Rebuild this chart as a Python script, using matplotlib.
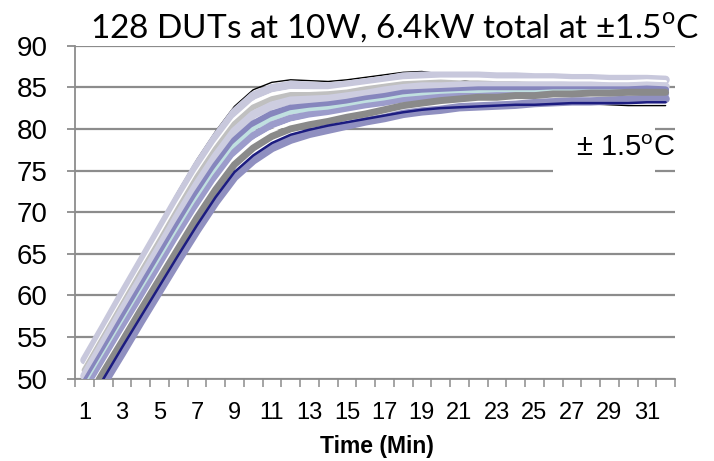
import matplotlib
matplotlib.use("Agg")
import matplotlib.pyplot as plt
from matplotlib.patches import Rectangle

plt.rcParams['mathtext.fontset'] = 'custom'
plt.rcParams['mathtext.rm'] = 'Lato'

### time axis, one point per minute
minutes = list(range(1, 33))

### temperature traces (degC), hottest first
black_trace = [52.0, 56.0, 60.0, 64.0, 68.4, 72.5, 76.3, 79.7, 82.7, 84.7, 85.6, 85.9, 85.8, 85.7, 85.9, 86.2,
               86.5, 86.8, 86.9, 86.6, 86.0, 85.4, 84.8, 84.3, 83.9, 83.5, 83.2, 83.0, 82.9, 82.8, 82.8, 82.8]
lav_top = [52.2, 56.1, 60.1, 64.0, 67.9, 71.8, 75.6, 79.0, 82.0, 84.0, 84.9, 85.3, 85.2, 85.1, 85.3, 85.6,
           85.9, 86.3, 86.4, 86.4, 86.4, 86.4, 86.3, 86.3, 86.2, 86.2, 86.1, 86.1, 86.0, 86.0, 86.0, 85.9]
white_top = [51.5, 55.5, 59.4, 63.3, 67.2, 71.1, 74.8, 78.2, 81.2, 83.2, 84.2, 84.6, 84.6, 84.6, 84.9, 85.2,
             85.5, 85.8, 85.9, 86.0, 86.0, 86.0, 85.9, 85.9, 85.9, 85.9, 85.8, 85.8, 85.7, 85.7, 85.8, 85.7]
silver = [51.0, 54.9, 58.8, 62.7, 66.5, 70.4, 74.2, 77.6, 80.6, 82.6, 83.6, 84.1, 84.1, 84.2, 84.4, 84.8,
          85.1, 85.4, 85.5, 85.6, 85.5, 85.5, 85.4, 85.4, 85.3, 85.3, 85.2, 85.2, 85.2, 85.2, 85.2, 85.2]
lav_light = [50.3, 54.2, 58.1, 61.9, 65.7, 69.6, 73.3, 76.7, 79.7, 81.7, 82.8, 83.4, 83.5, 83.6, 83.9, 84.2,
             84.6, 84.9, 85.1, 85.1, 85.2, 85.2, 85.2, 85.2, 85.2, 85.2, 85.2, 85.2, 85.1, 85.1, 85.2, 85.1]
lav_mid = [49.4, 53.2, 57.1, 60.9, 64.7, 68.5, 72.2, 75.6, 78.6, 80.6, 81.8, 82.5, 82.7, 82.9, 83.2, 83.6,
           83.9, 84.3, 84.4, 84.5, 84.6, 84.7, 84.7, 84.7, 84.7, 84.7, 84.7, 84.7, 84.7, 84.7, 84.8, 84.7]
cyan = [48.9, 52.7, 56.5, 60.3, 64.1, 67.9, 71.6, 75.0, 78.0, 80.0, 81.2, 82.0, 82.3, 82.5, 82.8, 83.2,
        83.5, 83.9, 84.1, 84.2, 84.3, 84.4, 84.4, 84.4, 84.4, 84.5, 84.5, 84.5, 84.5, 84.5, 84.5, 84.5]
lav_low = [48.2, 52.0, 55.8, 59.6, 63.3, 67.1, 70.8, 74.2, 77.2, 79.2, 80.5, 81.3, 81.7, 81.9, 82.3, 82.7,
           83.0, 83.4, 83.6, 83.8, 83.9, 83.9, 84.0, 84.0, 84.0, 84.1, 84.1, 84.1, 84.2, 84.2, 84.2, 84.2]
white_low = [47.6, 51.4, 55.2, 58.9, 62.7, 66.5, 70.1, 73.5, 76.5, 78.5, 79.8, 80.7, 81.2, 81.5, 81.9, 82.3,
             82.6, 83.0, 83.2, 83.4, 83.5, 83.6, 83.6, 83.7, 83.7, 83.8, 83.9, 83.9, 83.9, 83.9, 84.0, 83.9]
lav_bottom = [45.6, 49.3, 53.0, 56.8, 60.5, 64.2, 67.8, 71.2, 74.2, 76.2, 77.7, 78.7, 79.4, 79.9, 80.4, 80.9,
              81.3, 81.8, 82.1, 82.3, 82.6, 82.7, 82.8, 82.9, 83.1, 83.2, 83.3, 83.3, 83.4, 83.5, 83.6, 83.6]
gray = [46.9, 50.7, 54.4, 58.2, 61.9, 65.6, 69.3, 72.7, 75.7, 77.7, 79.1, 80.0, 80.5, 80.9, 81.4, 81.8,
        82.3, 82.8, 83.1, 83.4, 83.6, 83.8, 83.8, 84.0, 84.0, 84.2, 84.2, 84.3, 84.3, 84.4, 84.4, 84.4]
navy = [46.2, 49.9, 53.7, 57.4, 61.1, 64.8, 68.4, 71.8, 74.8, 76.8, 78.3, 79.3, 79.9, 80.4, 80.8, 81.2,
        81.6, 82.0, 82.3, 82.5, 82.6, 82.7, 82.8, 82.9, 82.9, 83.0, 83.1, 83.1, 83.1, 83.1, 83.2, 83.2]

### (values, colour, width) in drawing order -- later ones sit on top
traces = [
    (black_trace, "#000000", 1.0),
    (lav_top, "#c8c8dc", 6),
    (white_top, "#ffffff", 2),
    (silver, "#c0c0c0", 4),
    (lav_light, "#cdcde0", 6),
    (lav_mid, "#8686bd", 5),
    (cyan, "#c0e0e0", 3),
    (lav_low, "#9c9ccb", 5),
    (white_low, "#ffffff", 2),
    (lav_bottom, "#9090c0", 6),
    (gray, "#8a8a8a", 5),
    (navy, "#1c1c80", 1.8),
]

y_ticks = [50, 55, 60, 65, 70, 75, 80, 85, 90]
x_labels = minutes[::2]

fig = plt.figure(figsize=(7.14, 4.61), dpi=100)
ax = fig.add_axes([75 / 714, 82.5 / 461, 600 / 714, 332.8 / 461])

for vals, col, lw in traces:
    ax.plot(minutes, vals, color=col, lw=lw, solid_capstyle="round", solid_joinstyle="round", zorder=3)

ax.set_xlim(0.5, 32.5)
ax.set_ylim(50, 90)
ax.set_yticks(y_ticks)
ax.set_xticks([m - 0.5 for m in minutes] + [32.5])
ax.set_xticklabels([])
ax.set_xticks(x_labels, minor=True)
ax.set_xticklabels([str(m) for m in x_labels], minor=True)

grid_col = "#8c8c8c"
ax.yaxis.grid(True, color=grid_col, lw=1.6, zorder=1)
for s in ["top", "right"]:
    ax.spines[s].set_visible(False)
for s in ["left", "bottom"]:
    ax.spines[s].set_color(grid_col)
    ax.spines[s].set_linewidth(1.3)
ax.tick_params(axis="x", which="major", direction="out", length=5.5, width=1.1, color=grid_col)
ax.tick_params(axis="x", which="minor", length=0, pad=17, labelsize=17)
ax.tick_params(axis="y", direction="out", length=5.5, width=1.3, color=grid_col, pad=14, labelsize=20)
for lab in ax.get_xticklabels(minor=True) + ax.get_yticklabels():
    lab.set_fontfamily("Liberation Sans")

### white text box over the gridlines on the right
ax.add_patch(Rectangle((26.0, 73.5), 5.45, 8.0, facecolor="white", edgecolor="none", zorder=2))
ax.text(27.2, 77.7, "\u00b1 1.5$^{\\mathrm{o}}$C", fontsize=21, family="Liberation Sans",
        ha="left", va="center", zorder=4)

fig.text(395 / 714, 1 - 38 / 461, "128 DUTs at 10W, 6.4kW total at \u00b11.5$^{\\mathrm{o}}$C",
         fontsize=24, family="Lato", ha="center", va="baseline")
fig.text(377 / 714, 1 - 453 / 461, "Time (Min)", fontsize=16.5, family="Liberation Sans",
         fontweight="bold", ha="center", va="baseline")

plt.savefig("out.png", dpi=100)
